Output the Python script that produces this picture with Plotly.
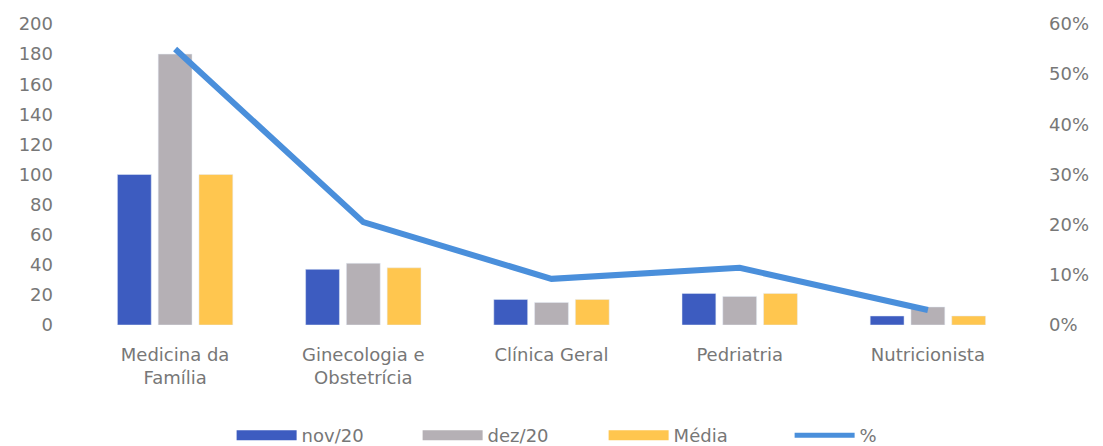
import plotly.graph_objects as go

categories = ["Medicina da<br>Família", "Ginecologia e<br>Obstetrícia", "Clínica Geral", "Pedriatria", "Nutricionista"]
nov20 = [100, 37, 17, 21, 6]
dez20 = [180, 41, 15, 19, 12]
media = [100, 38, 17, 21, 6]
pct = [0.55, 0.205, 0.092, 0.114, 0.03]

c_nov = "#3D5CC0"
c_dez = "#B5B0B5"
c_med = "#FFC64F"
c_pct = "#4A8FDB"
font = dict(family="DejaVu Sans, sans-serif", size=18, color="#777777")

fig = go.Figure()
fig.add_bar(x=categories, y=nov20, name="nov/20", marker_color=c_nov, showlegend=False)
fig.add_bar(x=categories, y=dez20, name="dez/20", marker_color=c_dez, showlegend=False)
fig.add_bar(x=categories, y=media, name="Média", marker_color=c_med, showlegend=False)
fig.add_scatter(x=categories, y=pct, name="%", mode="lines", yaxis="y2",
                line=dict(color=c_pct, width=6), showlegend=False)

# legend entries
for nm, col, w in [("nov/20", c_nov, 11), ("dez/20", c_dez, 11), ("Média", c_med, 11), ("%", c_pct, 5)]:
    fig.add_scatter(x=[None], y=[None], mode="lines", name=nm,
                    line=dict(color=col, width=w), showlegend=True)

fig.update_layout(
    width=1103, height=446,
    margin=dict(l=73, r=89, t=16, b=129, autoexpand=False),
    paper_bgcolor="white", plot_bgcolor="white",
    font=font,
    barmode="group", bargap=0.35, bargroupgap=0.17,
    xaxis=dict(showgrid=False, showline=False, ticks="", tickfont=font, ticklabelstandoff=17),
    yaxis=dict(range=[0, 200], dtick=20, showgrid=False, showline=False, zeroline=False,
               ticklabelstandoff=27, tickfont=font),
    yaxis2=dict(range=[0, 0.6], dtick=0.1, tickformat=".0%", overlaying="y", side="right",
                showgrid=False, showline=False, zeroline=False, ticklabelstandoff=26, tickfont=font),
    legend=dict(orientation="h", x=0.540, xanchor="center", xref="container",
                y=0, yanchor="bottom", yref="container", entrywidth=111, entrywidthmode="pixels",
                font=font, itemwidth=60, traceorder="normal", tracegroupgap=0),
)

fig.write_html("out.html")
